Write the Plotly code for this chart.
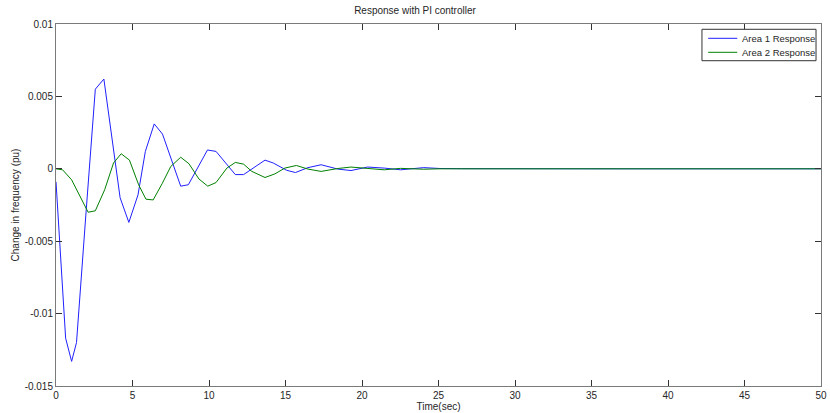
import plotly.graph_objects as go

# Area 1 response (time in sec, frequency deviation in pu)
t_area1 = [0, 0.63, 1.02, 1.34, 1.95, 2.57, 3.13, 3.65, 4.19, 4.76, 5.36, 5.84, 6.42, 6.96,
           7.55, 8.15, 8.65, 9.25, 9.9, 10.46, 11.1, 11.72, 12.26, 12.95, 13.66, 14.2, 15.07,
           15.65, 16.47, 17.33, 18.42, 19.28, 20.36, 21.45, 22.52, 24.04, 25.1, 26.5, 28.5,
           31, 34, 37, 40, 43, 46, 48.5, 50]
y_area1 = [-0.0009, -0.0117, -0.0133, -0.0120, -0.0032, 0.0055, 0.0062, 0.0021, -0.0020,
           -0.0037, -0.0018, 0.0012, 0.0031, 0.0024, 0.0006, -0.0012, -0.0011, 0.0001, 0.0013,
           0.0012, 0.0004, -0.0004, -0.0004, 0.0001, 0.0006, 0.0004, -0.0001, -0.00026,
           0.00008, 0.00028, -0.00002, -0.00012, 0.00012, 0.00005, -0.00007, 0.00008, 0.00002,
           0.00001, 0.0, 0.0, 0.0, 0.0, 0.0, 0.0, 0.0, 0.0, 0.0]

# Area 2 response
t_area2 = [0, 0.43, 1.02, 1.56, 2.1, 2.57, 3.18, 3.76, 4.26, 4.80, 5.4, 5.88, 6.35, 6.95,
           7.5, 8.15, 8.69, 9.34, 9.92, 10.46, 11.17, 11.72, 12.26, 12.8, 13.66, 14.31, 14.96,
           15.71, 16.47, 17.33, 18.42, 19.28, 20.36, 21.45, 22.52, 24.04, 25.1, 26.5, 28.5,
           31, 34, 37, 40, 43, 46, 48.5, 50]
y_area2 = [0, -0.00007, -0.00076, -0.0019, -0.0030, -0.0029, -0.00145, 0.0004, 0.00104,
           0.0006, -0.0011, -0.0021, -0.00215, -0.0010, 0.00016, 0.0008, 0.00035, -0.0007,
           -0.0012, -0.00095, 0.00005, 0.00044, 0.00032, -0.00018, -0.0006, -0.00035, 0.00005,
           0.00023, -0.00002, -0.00018, 0.00002, 0.00012, 0.00003, -0.00007, 0.00003, -0.00003,
           0.0, 0.0, 0.0, 0.0, 0.0, 0.0, 0.0, 0.0, 0.0, 0.0, 0.0]

series_names = ["Area 1 Response", "Area 2 Response"]
series_colors = ["#2020ff", "#008000"]

x_ticks = [0, 5, 10, 15, 20, 25, 30, 35, 40, 45, 50]
y_ticks = [-0.015, -0.01, -0.005, 0, 0.005, 0.01]
y_tick_labels = ["-0.015", "-0.01", "-0.005", "0", "0.005", "0.01"]

FONT = "Liberation Sans, Arial, sans-serif"
AXIS_COLOR = "#7a7a7a"
TEXT_COLOR = "#262626"

fig = go.Figure()
for t, y, name, color in [(t_area1, y_area1, series_names[0], series_colors[0]),
                          (t_area2, y_area2, series_names[1], series_colors[1])]:
    fig.add_trace(go.Scatter(x=t, y=y, mode="lines", name=name, showlegend=False,
                             line=dict(color=color, width=1)))

axis_common = dict(
    showline=True, linecolor=AXIS_COLOR, linewidth=1, mirror="ticks",
    ticks="inside", ticklen=6, tickcolor="#333333", tickwidth=1,
    showgrid=False, zeroline=False, ticklabeloverflow="allow",
    tickfont=dict(family=FONT, size=10, color=TEXT_COLOR),
)

# Legend drawn in paper coordinates (box, sample lines, labels)
leg_x0, leg_x1 = 0.8444, 0.9935
leg_y0, leg_y1 = 0.8986, 0.9854
row_y = [0.9605, 0.9218]
line_x0, line_x1, text_x = 0.8525, 0.8906, 0.8936

shapes = [dict(type="rect", xref="paper", yref="paper", x0=leg_x0, x1=leg_x1,
               y0=leg_y0, y1=leg_y1, line=dict(color="#333333", width=1),
               fillcolor="white", layer="above")]
annotations = []
for name, color, ry in zip(series_names, series_colors, row_y):
    shapes.append(dict(type="line", xref="paper", yref="paper", x0=line_x0, x1=line_x1,
                       y0=ry, y1=ry, line=dict(color=color, width=1), layer="above"))
    annotations.append(dict(text=name, xref="paper", yref="paper", x=text_x, y=ry,
                            xanchor="left", yanchor="middle", showarrow=False,
                            font=dict(family=FONT, size=9.5, color=TEXT_COLOR)))

fig.update_layout(
    width=830, height=413,
    margin=dict(l=56, r=3, t=24, b=27),
    paper_bgcolor="white", plot_bgcolor="white",
    title=dict(text="Response with PI controller", x=0.5, xanchor="center",
               y=1 - 10 / 413, yanchor="middle",
               font=dict(family=FONT, size=10, color=TEXT_COLOR)),
    xaxis=dict(range=[0, 50], tickvals=x_ticks,
               title=dict(text="Time(sec)", standoff=2,
                          font=dict(family=FONT, size=10, color=TEXT_COLOR)),
               **axis_common),
    yaxis=dict(range=[-0.015, 0.01], tickvals=y_ticks, ticktext=y_tick_labels,
               title=dict(text="Change in frequency (pu)", standoff=3,
                          font=dict(family=FONT, size=10, color=TEXT_COLOR)),
               **axis_common),
    shapes=shapes,
    annotations=annotations,
    showlegend=False,
)

fig.write_html("out.html")
